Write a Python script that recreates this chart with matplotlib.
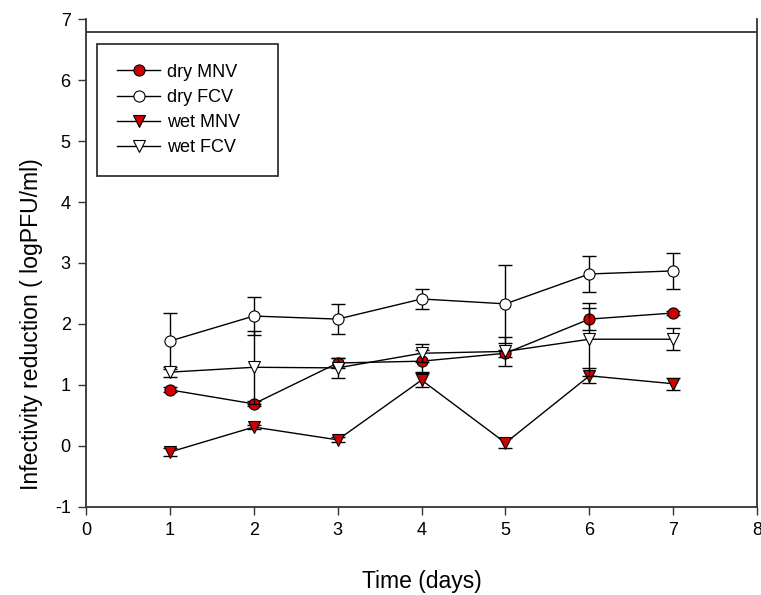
import matplotlib
matplotlib.use("Agg")
import matplotlib.pyplot as plt

days = [1, 2, 3, 4, 5, 6, 7]

dry_mnv = [0.92, 0.69, 1.36, 1.39, 1.52, 2.08, 2.18]
dry_mnv_err = [0.04, 0.04, 0.08, 0.18, 0.06, 0.18, 0.04]

dry_fcv = [1.72, 2.13, 2.08, 2.41, 2.33, 2.82, 2.87]
dry_fcv_err = [0.46, 0.31, 0.25, 0.16, 0.64, 0.29, 0.29]

wet_mnv = [-0.10, 0.31, 0.10, 1.08, 0.05, 1.15, 1.02]
wet_mnv_err = [0.06, 0.04, 0.04, 0.12, 0.08, 0.12, 0.10]

wet_fcv = [1.21, 1.29, 1.28, 1.52, 1.55, 1.75, 1.75]
wet_fcv_err = [0.08, 0.60, 0.16, 0.15, 0.24, 0.60, 0.18]

limit = 6.78

plt.rcParams["axes.unicode_minus"] = False
plt.rcParams["font.family"] = ["Liberation Sans", "DejaVu Sans"]

fig = plt.figure(figsize=(7.61, 5.95), dpi=100)
ax = fig.add_axes([0.113, 0.148, 0.882, 0.820])

red = "#d10000"
series = [
    (dry_mnv, dry_mnv_err, "o", red, "dry MNV"),
    (dry_fcv, dry_fcv_err, "o", "white", "dry FCV"),
    (wet_mnv, wet_mnv_err, "v", red, "wet MNV"),
    (wet_fcv, wet_fcv_err, "v", "white", "wet FCV"),
]
for vals, err, mk, fc, name in series:
    ax.errorbar(days, vals, yerr=err, fmt="none", ecolor="black", elinewidth=1.0,
                capsize=5, capthick=1.0)
    ax.plot(days, vals, color="black", lw=1.0, marker=mk, ms=8, mfc=fc,
            mec="black", mew=0.8, label=name)

ax.axhline(limit, color="#333333", lw=1.3)

ax.set_xlim(0, 8)
ax.set_ylim(-1, 7)
ax.set_xticks(range(0, 9))
ax.set_yticks(range(-1, 8))
ax.spines["top"].set_visible(False)
for s in ["left", "bottom", "right"]:
    ax.spines[s].set_color("#333333")
    ax.spines[s].set_linewidth(1.3)
ax.tick_params(direction="out", length=6, width=1.0, color="#333333",
               labelsize=13, pad=5)

ax.set_xlabel("Time (days)", fontsize=16.5, labelpad=22)
ax.set_ylabel("Infectivity reduction ( logPFU/ml)", fontsize=16.6)
ax.yaxis.set_label_coords(-0.064, 0.375)

leg = ax.legend(loc="upper left", bbox_to_anchor=(0.0164, 0.949, 0.27, 0.0), mode="expand",
                prop={"size": 13}, frameon=True, fancybox=False, edgecolor="#333333",
                handlelength=2.4, borderpad=1.1, labelspacing=0.45, handletextpad=0.39,
                borderaxespad=0, framealpha=1)
leg.get_frame().set_linewidth(1.3)

fig.savefig("out.png", dpi=100)
